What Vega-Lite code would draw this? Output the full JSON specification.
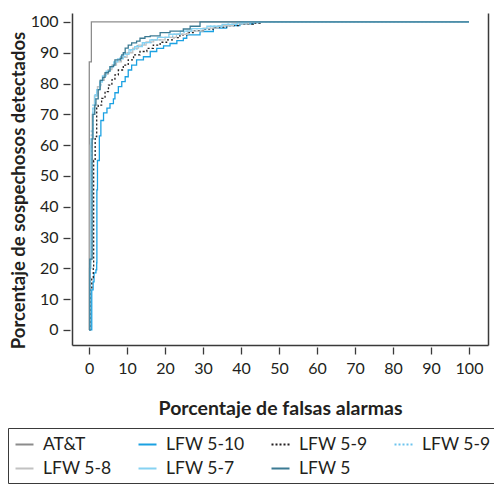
{
  "$schema": "https://vega.github.io/schema/vega-lite/v6.json",
  "autosize": {"type": "none"},
  "padding": {"left": 72, "top": 13, "right": 6, "bottom": 139},
  "width": 416,
  "height": 332,
  "config": {
    "view": {"stroke": null},
    "font": "Lato",
    "axis": {"grid": false, "labelFont": "Lato", "titleFont": "Lato", "labelColor": "#231f20", "titleColor": "#231f20", "domainColor": "#3a3a3a", "tickColor": "#3a3a3a", "domainWidth": 1.5, "tickWidth": 1.3}
  },
  "data": {"values": [
    {"s":"AT&T","x":0,"y":0},{"s":"AT&T","x":0.05,"y":87},{"s":"AT&T","x":0.6,"y":100},{"s":"AT&T","x":100,"y":100},

    {"s":"LFW 5-10","x":0,"y":0},{"s":"LFW 5-10","x":0.7,"y":13},{"s":"LFW 5-10","x":1.05,"y":15.6},{"s":"LFW 5-10","x":1.3,"y":18.5},{"s":"LFW 5-10","x":1.8,"y":19.5},{"s":"LFW 5-10","x":2.0,"y":21.8},{"s":"LFW 5-10","x":2.05,"y":45.5},{"s":"LFW 5-10","x":2.2,"y":55},{"s":"LFW 5-10","x":2.7,"y":63},{"s":"LFW 5-10","x":3.1,"y":68},{"s":"LFW 5-10","x":3.8,"y":70.5},{"s":"LFW 5-10","x":4.7,"y":72},{"s":"LFW 5-10","x":5.5,"y":73.5},{"s":"LFW 5-10","x":6.4,"y":75},{"s":"LFW 5-10","x":6.8,"y":77},{"s":"LFW 5-10","x":7.7,"y":79},{"s":"LFW 5-10","x":8.6,"y":80.6},{"s":"LFW 5-10","x":9.5,"y":82.2},{"s":"LFW 5-10","x":10.3,"y":84.4},{"s":"LFW 5-10","x":11.2,"y":86},{"s":"LFW 5-10","x":12.5,"y":87.7},{"s":"LFW 5-10","x":14.3,"y":88.7},{"s":"LFW 5-10","x":16.1,"y":90.4},{"s":"LFW 5-10","x":17.8,"y":91.4},{"s":"LFW 5-10","x":19.6,"y":92.2},{"s":"LFW 5-10","x":21.3,"y":93},{"s":"LFW 5-10","x":23.1,"y":93.9},{"s":"LFW 5-10","x":24.8,"y":94.7},{"s":"LFW 5-10","x":25.7,"y":95.8},{"s":"LFW 5-10","x":29.2,"y":96.9},{"s":"LFW 5-10","x":32.7,"y":98},{"s":"LFW 5-10","x":36.2,"y":98.8},{"s":"LFW 5-10","x":39.7,"y":99.4},{"s":"LFW 5-10","x":43.2,"y":99.8},{"s":"LFW 5-10","x":45,"y":100},{"s":"LFW 5-10","x":100,"y":100},

    {"s":"LFW 5-9 a","x":0,"y":0},{"s":"LFW 5-9 a","x":0.3,"y":13},{"s":"LFW 5-9 a","x":0.7,"y":17},{"s":"LFW 5-9 a","x":1.1,"y":20},{"s":"LFW 5-9 a","x":1.2,"y":55},{"s":"LFW 5-9 a","x":1.6,"y":62.8},{"s":"LFW 5-9 a","x":2.0,"y":72},{"s":"LFW 5-9 a","x":2.4,"y":73},{"s":"LFW 5-9 a","x":3.3,"y":75.2},{"s":"LFW 5-9 a","x":4.2,"y":77.4},{"s":"LFW 5-9 a","x":5.1,"y":79.5},{"s":"LFW 5-9 a","x":6.0,"y":81.2},{"s":"LFW 5-9 a","x":6.8,"y":82.8},{"s":"LFW 5-9 a","x":7.7,"y":84.4},{"s":"LFW 5-9 a","x":9.0,"y":86},{"s":"LFW 5-9 a","x":10.3,"y":87.7},{"s":"LFW 5-9 a","x":11.7,"y":89.3},{"s":"LFW 5-9 a","x":13.4,"y":90.4},{"s":"LFW 5-9 a","x":15.2,"y":91.4},{"s":"LFW 5-9 a","x":16.9,"y":92.5},{"s":"LFW 5-9 a","x":18.7,"y":93.4},{"s":"LFW 5-9 a","x":20.4,"y":94.2},{"s":"LFW 5-9 a","x":22.2,"y":94.9},{"s":"LFW 5-9 a","x":23.9,"y":95.8},{"s":"LFW 5-9 a","x":25.7,"y":96.5},{"s":"LFW 5-9 a","x":27.4,"y":97.2},{"s":"LFW 5-9 a","x":30.1,"y":97.7},{"s":"LFW 5-9 a","x":32.7,"y":98.3},{"s":"LFW 5-9 a","x":36.2,"y":98.8},{"s":"LFW 5-9 a","x":39.7,"y":99.3},{"s":"LFW 5-9 a","x":43.2,"y":99.6},{"s":"LFW 5-9 a","x":45,"y":100},{"s":"LFW 5-9 a","x":100,"y":100},

    {"s":"LFW 5-9 b","x":0,"y":0},{"s":"LFW 5-9 b","x":0.2,"y":22},{"s":"LFW 5-9 b","x":0.6,"y":65},{"s":"LFW 5-9 b","x":1.0,"y":73},{"s":"LFW 5-9 b","x":1.6,"y":77},{"s":"LFW 5-9 b","x":2.3,"y":79},{"s":"LFW 5-9 b","x":3.1,"y":81.5},{"s":"LFW 5-9 b","x":4,"y":83},{"s":"LFW 5-9 b","x":5,"y":84.5},{"s":"LFW 5-9 b","x":6,"y":86},{"s":"LFW 5-9 b","x":7,"y":87.3},{"s":"LFW 5-9 b","x":8.3,"y":88.8},{"s":"LFW 5-9 b","x":9.6,"y":90},{"s":"LFW 5-9 b","x":11,"y":91.2},{"s":"LFW 5-9 b","x":12.6,"y":92.3},{"s":"LFW 5-9 b","x":14.5,"y":93.3},{"s":"LFW 5-9 b","x":16.5,"y":94.2},{"s":"LFW 5-9 b","x":19,"y":95},{"s":"LFW 5-9 b","x":22,"y":96},{"s":"LFW 5-9 b","x":25,"y":97},{"s":"LFW 5-9 b","x":28,"y":97.8},{"s":"LFW 5-9 b","x":32,"y":98.6},{"s":"LFW 5-9 b","x":36,"y":99.3},{"s":"LFW 5-9 b","x":40,"y":100},{"s":"LFW 5-9 b","x":100,"y":100},

    {"s":"LFW 5-8","x":0,"y":0},{"s":"LFW 5-8","x":0.05,"y":20},{"s":"LFW 5-8","x":0.3,"y":60},{"s":"LFW 5-8","x":0.8,"y":70},{"s":"LFW 5-8","x":1.4,"y":76},{"s":"LFW 5-8","x":2.2,"y":79},{"s":"LFW 5-8","x":3.0,"y":81},{"s":"LFW 5-8","x":4.0,"y":83},{"s":"LFW 5-8","x":5.0,"y":84.5},{"s":"LFW 5-8","x":6.0,"y":86},{"s":"LFW 5-8","x":7.2,"y":87},{"s":"LFW 5-8","x":8.5,"y":88.5},{"s":"LFW 5-8","x":10,"y":90},{"s":"LFW 5-8","x":11.5,"y":91.5},{"s":"LFW 5-8","x":13,"y":92.5},{"s":"LFW 5-8","x":15,"y":93.5},{"s":"LFW 5-8","x":17,"y":94.2},{"s":"LFW 5-8","x":20,"y":95},{"s":"LFW 5-8","x":23,"y":96},{"s":"LFW 5-8","x":26,"y":97},{"s":"LFW 5-8","x":30,"y":98},{"s":"LFW 5-8","x":34,"y":98.8},{"s":"LFW 5-8","x":38,"y":99.4},{"s":"LFW 5-8","x":42,"y":100},{"s":"LFW 5-8","x":100,"y":100},

    {"s":"LFW 5-7","x":0,"y":0},{"s":"LFW 5-7","x":0.2,"y":20},{"s":"LFW 5-7","x":0.5,"y":62},{"s":"LFW 5-7","x":1.0,"y":72},{"s":"LFW 5-7","x":1.5,"y":76},{"s":"LFW 5-7","x":2.0,"y":78},{"s":"LFW 5-7","x":2.8,"y":80.5},{"s":"LFW 5-7","x":3.5,"y":82.5},{"s":"LFW 5-7","x":4.5,"y":84},{"s":"LFW 5-7","x":5.5,"y":85.5},{"s":"LFW 5-7","x":6.5,"y":87},{"s":"LFW 5-7","x":7.5,"y":88},{"s":"LFW 5-7","x":9,"y":89.5},{"s":"LFW 5-7","x":10.5,"y":91},{"s":"LFW 5-7","x":12,"y":92},{"s":"LFW 5-7","x":14,"y":93.3},{"s":"LFW 5-7","x":16,"y":94.2},{"s":"LFW 5-7","x":18,"y":95},{"s":"LFW 5-7","x":21,"y":96},{"s":"LFW 5-7","x":24,"y":97},{"s":"LFW 5-7","x":27,"y":97.8},{"s":"LFW 5-7","x":31,"y":98.6},{"s":"LFW 5-7","x":35,"y":99.2},{"s":"LFW 5-7","x":39,"y":99.7},{"s":"LFW 5-7","x":41,"y":100},{"s":"LFW 5-7","x":100,"y":100},

    {"s":"LFW 5","x":0,"y":0},{"s":"LFW 5","x":0.2,"y":23},{"s":"LFW 5","x":0.8,"y":62},{"s":"LFW 5","x":1.0,"y":70},{"s":"LFW 5","x":1.5,"y":73},{"s":"LFW 5","x":1.8,"y":75},{"s":"LFW 5","x":2.4,"y":78},{"s":"LFW 5","x":2.9,"y":81},{"s":"LFW 5","x":3.6,"y":82},{"s":"LFW 5","x":4.2,"y":83.5},{"s":"LFW 5","x":5.1,"y":84},{"s":"LFW 5","x":5.5,"y":85.5},{"s":"LFW 5","x":6.4,"y":86},{"s":"LFW 5","x":6.8,"y":87.7},{"s":"LFW 5","x":8.2,"y":88.2},{"s":"LFW 5","x":8.6,"y":89.3},{"s":"LFW 5","x":9.0,"y":90},{"s":"LFW 5","x":9.5,"y":91.5},{"s":"LFW 5","x":10.3,"y":92.5},{"s":"LFW 5","x":11.2,"y":93.2},{"s":"LFW 5","x":12.5,"y":93.8},{"s":"LFW 5","x":13.4,"y":94.7},{"s":"LFW 5","x":14.7,"y":95.2},{"s":"LFW 5","x":16.1,"y":95.5},{"s":"LFW 5","x":18.7,"y":96.5},{"s":"LFW 5","x":21.3,"y":97},{"s":"LFW 5","x":24.8,"y":97.7},{"s":"LFW 5","x":26.6,"y":98.6},{"s":"LFW 5","x":29.2,"y":100},{"s":"LFW 5","x":100,"y":100}
  ]},
  "resolve": {"axis": {"x": "independent", "y": "independent"}},
  "layer": [
    {
      "mark": {"type": "point", "opacity": 0},
      "encoding": {
        "x": {"field": "x", "type": "quantitative", "scale": {"domain": [-4.5, 105], "nice": false, "zero": false},
              "axis": {"orient": "bottom", "domain": true, "ticks": false, "labels": false, "title": null}},
        "y": {"field": "y", "type": "quantitative", "scale": {"domain": [-4.9, 102.9], "nice": false, "zero": false},
              "axis": {"orient": "left", "domain": true, "ticks": false, "labels": false, "title": null}}
      }
    },
    {
      "mark": {"type": "point", "opacity": 0},
      "encoding": {
        "x": {"field": "x", "type": "quantitative", "axis": null},
        "y": {"field": "y", "type": "quantitative",
              "axis": {"orient": "right", "domain": true, "ticks": false, "labels": false, "title": null}}
      }
    },
    {
      "mark": {"type": "line", "interpolate": "step-after", "strokeWidth": 1.3, "clip": true},
      "encoding": {
        "x": {"field": "x", "type": "quantitative",
              "axis": {"orient": "bottom", "offset": 2, "domain": false, "values": [0,10,20,30,40,50,60,70,80,90,100], "tickSize": 7, "labelPadding": 6, "labelFontSize": 16, "title": "Porcentaje de falsas alarmas", "titleFontSize": 19.5, "titleFontWeight": "bold", "titleY": 61, "titleBaseline": "middle"}},
        "y": {"field": "y", "type": "quantitative",
              "axis": {"orient": "left", "offset": 2, "domain": false, "values": [0,10,20,30,40,50,60,70,80,90,100], "tickSize": 7, "labelPadding": 5, "labelFontSize": 16, "title": "Porcentaje de sospechosos detectados", "titleFontSize": 18.5, "titleFontWeight": "bold", "titleX": -52, "titleY": 177, "titleBaseline": "middle"}},
        "color": {"field": "s", "type": "nominal",
                  "scale": {"domain": ["AT&T","LFW 5-10","LFW 5-9 a","LFW 5-9 b","LFW 5-8","LFW 5-7","LFW 5"],
                            "range": ["#8c8c8c","#1ba1e2","#231f20","#6cc4ee","#c2c2c2","#86d2f2","#3b7a93"]},
                  "legend": {"orient": "none", "legendX": -64, "legendY": 415, "columns": 4, "direction": "horizontal", "title": null,
                             "labelExpr": "indexof(datum.label, 'LFW 5-9') == 0 ? 'LFW 5-9' : datum.label",
                             "symbolType": "stroke", "symbolSize": 324, "symbolStrokeWidth": 2.2, "labelFontSize": 17.5, "labelColor": "#231f20", "labelOffset": 8,
                             "columnPadding": 22, "rowPadding": 5, "padding": 6, "strokeColor": "#3a3a3a"}},
        "strokeDash": {"field": "s", "type": "nominal",
                  "scale": {"domain": ["AT&T","LFW 5-10","LFW 5-9 a","LFW 5-9 b","LFW 5-8","LFW 5-7","LFW 5"],
                            "range": [[1,0],[1,0],[2,2],[2,2],[1,0],[1,0],[1,0]]},
                  "legend": {"orient": "none", "legendX": -64, "legendY": 415, "columns": 4, "direction": "horizontal", "title": null,
                             "labelExpr": "indexof(datum.label, 'LFW 5-9') == 0 ? 'LFW 5-9' : datum.label",
                             "symbolType": "stroke", "symbolSize": 324, "symbolStrokeWidth": 2.2, "labelFontSize": 17.5, "labelColor": "#231f20", "labelOffset": 8,
                             "columnPadding": 22, "rowPadding": 5, "padding": 6, "strokeColor": "#3a3a3a"}}
      }
    }
  ]
}
